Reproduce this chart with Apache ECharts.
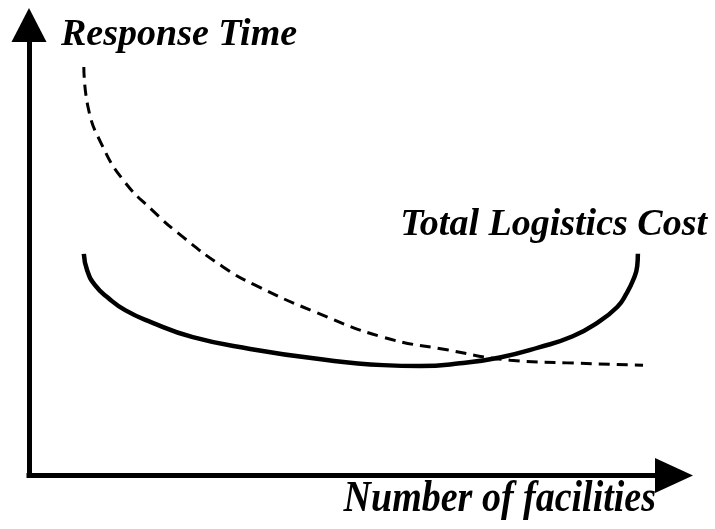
<!DOCTYPE html>
<html>
<head>
<meta charset="utf-8">
<script src="https://cdn.jsdelivr.net/npm/echarts@6/dist/echarts.min.js"></script>
<style>
html,body{margin:0;padding:0;background:#fff;}
#chart{width:715px;height:529px;}
</style>
</head>
<body>
<div id="chart"></div>
<script>
// Conceptual chart: axes in relative units 0..100
var responseTimeCurve = [
  [8.5,90.7],[9.15,81.8],[11.3,73.4],[14.6,65.6],[19.1,58.9],[23.9,52.9],
  [30.1,46.3],[35.0,42.3],[44.7,36.1],[54.9,30.7],[64.8,27.9],[74.6,25.6],
  [83.4,25.0],[95.2,24.5]
];
var logisticsCostCurve = [
  [8.5,49.2],[9.0,45.6],[10.2,42.3],[12.3,39.4],[14.9,36.7],[18.8,34.1],[25.4,30.7],
  [34.3,28.1],[44.7,25.9],[54.9,24.5],[60.6,24.3],[66.8,24.9],[73.0,26.2],[79.2,28.5],
  [84.3,30.9],[88.1,33.9],[91.2,37.4],[92.6,40.3],[93.7,43.5],[94.3,46.5],[94.4,49.2]
];
var yAxisTitle = 'Response Time';
var xAxisTitle = 'Number of facilities';
var costLabel = 'Total Logistics Cost';

var FONT = 'Liberation Serif, "Times New Roman", serif';
var chart = echarts.init(document.getElementById('chart'), null, {renderer: 'canvas'});
chart.setOption({
  backgroundColor: '#ffffff',
  animation: false,
  grid: {left: 29, right: 41, top: 25, bottom: 53.5, containLabel: false},
  xAxis: {
    type: 'value', min: 0, max: 100,
    axisLine: {show: true, onZero: false, symbol: ['none', 'triangle'], symbolSize: [35, 38],
      lineStyle: {color: '#000', width: 5, cap: 'square'}},
    axisTick: {show: false}, axisLabel: {show: false}, splitLine: {show: false}
  },
  yAxis: {
    type: 'value', min: 0, max: 100,
    axisLine: {show: true, onZero: false, symbol: ['none', 'triangle'], symbolSize: [35, 34],
      lineStyle: {color: '#000', width: 5, cap: 'square'}},
    axisTick: {show: false}, axisLabel: {show: false}, splitLine: {show: false}
  },
  series: [
    {
      name: yAxisTitle, type: 'line', data: responseTimeCurve, smooth: 0.5,
      showSymbol: false, silent: true,
      lineStyle: {color: '#000', width: 3, type: [11, 7]}
    },
    {
      name: costLabel, type: 'line', data: logisticsCostCurve, smooth: 0.5,
      showSymbol: false, silent: true,
      lineStyle: {color: '#000', width: 4.5}
    }
  ],
  graphic: [
    {type: 'text', x: 61, y: 35, silent: true,
      style: {text: yAxisTitle, fill: '#000', font: 'italic bold 38px ' + FONT, align: 'left', verticalAlign: 'middle'}},
    {type: 'text', x: 707, y: 225, silent: true,
      style: {text: costLabel, fill: '#000', font: 'italic bold 38px ' + FONT, align: 'right', verticalAlign: 'middle'}},
    {type: 'text', x: 656, y: 500, scaleY: 1.15, silent: true,
      style: {text: xAxisTitle, fill: '#000', font: 'italic bold 38px ' + FONT, align: 'right', verticalAlign: 'middle'}}
  ]
});
</script>
</body>
</html>
